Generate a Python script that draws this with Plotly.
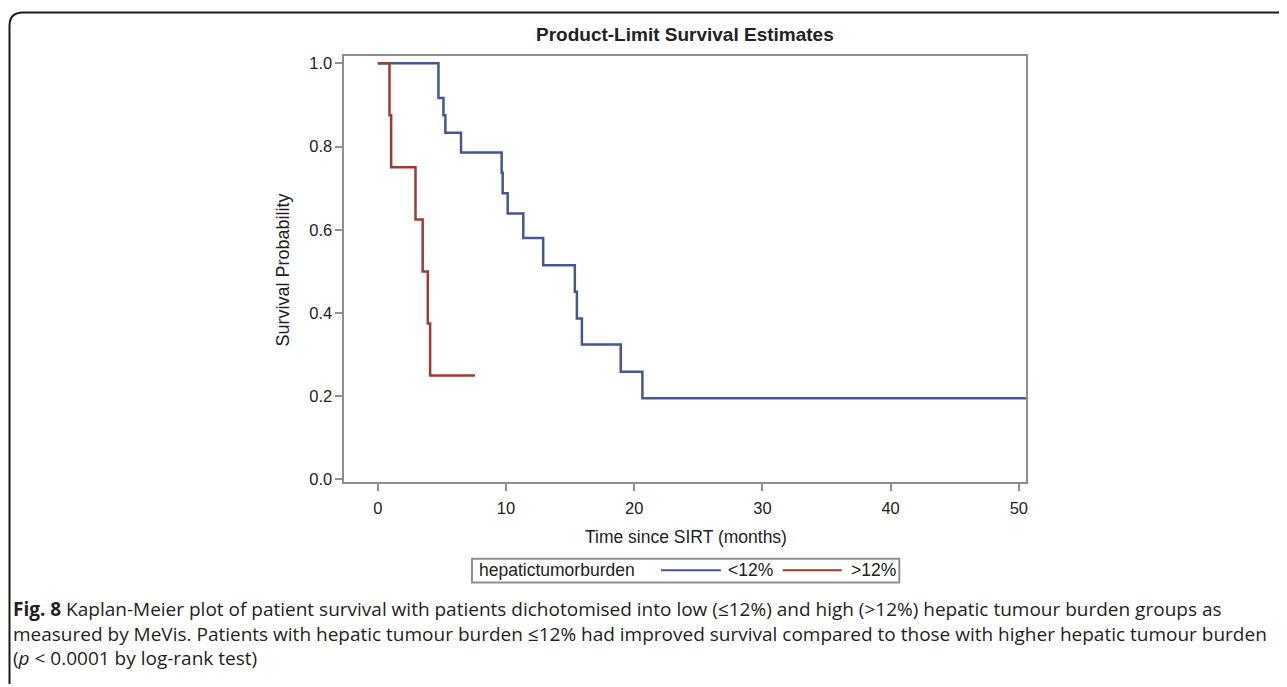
import plotly.graph_objects as go

# The page body has an 8px default margin, so the figure is sized/positioned to compensate.
OFF = 8
W, H = 1287 - OFF, 687 - OFF

# ---- data ----
title_text = "Product-Limit Survival Estimates"
legend_title = "hepatictumorburden"
group_labels = ["<12%", ">12%"]

low_time = [0, 4.73, 5.12, 5.27, 6.49, 9.66, 9.74, 10.13, 11.35, 12.9, 15.37, 15.53, 15.92, 18.95, 20.64, 50.8]
low_surv = [1.0, 0.917, 0.875, 0.833, 0.786, 0.737, 0.688, 0.639, 0.580, 0.515, 0.451, 0.387, 0.324, 0.259, 0.195, 0.195]

high_time = [0, 0.91, 1.04, 2.94, 3.5, 3.9, 4.08, 7.58]
high_surv = [1.0, 0.875, 0.75, 0.625, 0.5, 0.375, 0.25, 0.25]

x_ticks = [0, 10, 20, 30, 40, 50]
y_ticks = [0.0, 0.2, 0.4, 0.6, 0.8, 1.0]
y_tick_labels = ["0.0", "0.2", "0.4", "0.6", "0.8", "1.0"]

caption_lines = [
    "<b>Fig. 8</b> Kaplan-Meier plot of patient survival with patients dichotomised into low (≤12%) and high (&gt;12%) hepatic tumour burden groups as",
    "measured by MeVis. Patients with hepatic tumour burden ≤12% had improved survival compared to those with higher hepatic tumour burden",
    "(<i>p</i> &lt; 0.0001 by log-rank test)",
]

BLUE = "#445694"
RED = "#A23A2E"
GRAY = "#8f8f8f"
TXT = "#222222"
FONT = "Liberation Sans, Arial, sans-serif"
CAP_FONT = "Open Sans, Noto Sans, sans-serif"


def px(x):
    return (x - OFF) / W


def py(y):
    return 1 - (y - OFF) / H


fig = go.Figure()
fig.add_trace(go.Scatter(x=low_time, y=low_surv, mode="lines", line=dict(shape="hv", color=BLUE, width=2.5),
                         name=group_labels[0], showlegend=False))
fig.add_trace(go.Scatter(x=high_time, y=high_surv, mode="lines", line=dict(shape="hv", color=RED, width=2.5),
                         name=group_labels[1], showlegend=False))

axis_common = dict(showline=True, mirror=True, linecolor=GRAY, linewidth=2, ticks="outside", ticklen=7,
                   tickwidth=2, tickcolor=GRAY, showgrid=False, zeroline=False,
                   tickfont=dict(family=FONT, size=16.5, color=TXT))

fig.update_xaxes(range=[-2.6, 50.57], tickvals=x_ticks, domain=[px(345), px(1027.7)],
                 ticklabelstandoff=3, **axis_common)
fig.update_yaxes(range=[-0.0071, 1.0166], tickvals=y_ticks, ticktext=y_tick_labels,
                 domain=[py(486), py(55)], **axis_common)

annotations = [
    dict(text="<b>" + title_text + "</b>", x=px(686.5), y=py(33), xref="paper", yref="paper",
         showarrow=False, font=dict(family=FONT, size=19, color=TXT), xanchor="center", yanchor="middle"),
    dict(text="Survival Probability", x=px(283), y=py(271), xref="paper", yref="paper", textangle=-90,
         showarrow=False, font=dict(family=FONT, size=18, color=TXT), xanchor="center", yanchor="middle"),
    dict(text="Time since SIRT (months)", x=px(687), y=py(541), xref="paper", yref="paper",
         showarrow=False, font=dict(family=FONT, size=17.5, color=TXT), xanchor="center", yanchor="middle"),
    # legend
    dict(text=legend_title, x=px(478), y=py(575), xref="paper", yref="paper", showarrow=False,
         font=dict(family=FONT, size=17.5, color=TXT), xanchor="left", yanchor="middle"),
    dict(text=group_labels[0].replace("<", "&lt;"), x=px(727), y=py(575), xref="paper", yref="paper", showarrow=False,
         font=dict(family=FONT, size=17.5, color=TXT), xanchor="left", yanchor="middle"),
    dict(text=group_labels[1].replace(">", "&gt;"), x=px(850), y=py(575), xref="paper", yref="paper", showarrow=False,
         font=dict(family=FONT, size=17.5, color=TXT), xanchor="left", yanchor="middle"),
]

cap_y = [614, 639, 664]
for line, yy in zip(caption_lines, cap_y):
    annotations.append(dict(text=line, x=px(11), y=py(yy), xref="paper", yref="paper", showarrow=False,
                            font=dict(family=CAP_FONT, size=19, color="#231f20"), xanchor="left", yanchor="middle"))

shapes = [
    # legend box
    dict(type="rect", xref="paper", yref="paper", x0=px(472.7), x1=px(900.7), y0=py(587.3), y1=py(563.3),
         line=dict(color=GRAY, width=2)),
    dict(type="line", xref="paper", yref="paper", x0=px(662), x1=px(722), y0=py(575), y1=py(575),
         line=dict(color=BLUE, width=2)),
    dict(type="line", xref="paper", yref="paper", x0=px(784), x1=px(843), y0=py(575), y1=py(575),
         line=dict(color=RED, width=2)),
    # outer rounded frame (open at right and bottom)
    dict(type="path", xref="paper", yref="paper",
         path=f"M {px(9.5)} {py(690)} L {px(9.5)} {py(24)} Q {px(9.5)} {py(10.5)} {px(23)} {py(10.5)} L {px(1290)} {py(10.5)}",
         line=dict(color="#1a1a1a", width=2)),
]

fig.update_layout(width=W, height=H, margin=dict(l=0, r=0, t=0, b=0), plot_bgcolor="white",
                  paper_bgcolor="white", showlegend=False, annotations=annotations, shapes=shapes)

fig.write_html("out.html")
